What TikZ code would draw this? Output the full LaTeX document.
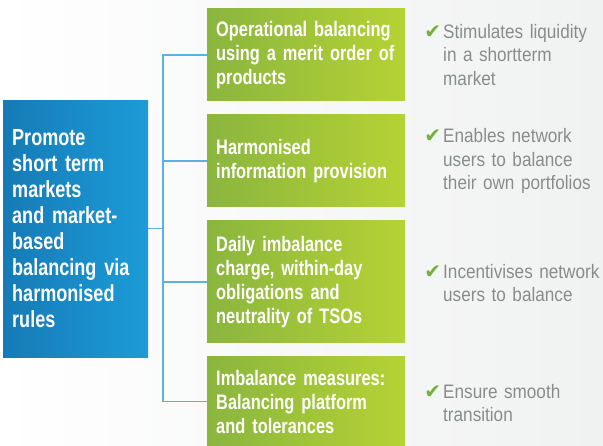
\documentclass[tikz,border=0pt]{standalone}
\usepackage{fontspec}
\setmainfont{Liberation Sans}[FakeStretch=0.78]
\newfontfamily\goalfont{Liberation Sans}[FakeStretch=0.775]
\newfontfamily\notefont{Liberation Sans}[FakeStretch=0.88]
\newfontfamily\tickfont{DejaVu Sans}
\usetikzlibrary{positioning}

\definecolor{blue1}{RGB}{22,122,182}
\definecolor{blue2}{RGB}{28,156,216}
\definecolor{green1}{RGB}{138,182,62}
\definecolor{green2}{RGB}{182,210,52}
\definecolor{line1}{RGB}{90,178,224}
\definecolor{gray1}{RGB}{138,140,140}
\definecolor{tick1}{RGB}{116,176,58}
\definecolor{bg1}{RGB}{240,241,241}

\tikzstyle{goalbox} = [anchor=north west, inner xsep=9pt, inner ysep=0pt, text width=127pt,
    minimum height=257pt, left color=blue1, right color=blue2, text=white, align=left,
    font=\goalfont\bfseries\fontsize{23.3}{26}\selectfont]
\tikzstyle{measure} = [anchor=west, inner xsep=9pt, inner ysep=0pt, text width=180pt,
    left color=green1, right color=green2, text=white, align=left,
    font=\bfseries\fontsize{21}{24}\selectfont]
\tikzstyle{note} = [anchor=west, inner sep=0pt, text width=175pt, text=gray1, align=left,
    font=\notefont\fontsize{19.5}{23.5}\selectfont]
\tikzstyle{link} = [draw=line1, line width=1.3pt]
\newcommand{\tickmark}{\llap{{\tickfont\fontsize{20}{20}\selectfont\color{tick1}✔}\hspace{2pt}}}

\begin{document}
\begin{tikzpicture}[x=1pt, y=-1pt]
    % background
    \useasboundingbox (0,0) rectangle (603,446);
    \fill[left color=white, right color=bg1] (0,0) rectangle (603,446);

    % goal
    \node[goalbox] (goal) at (3,100) {Promote\\short term\\markets\\and market-\\based\\balancing via\\harmonised\\rules};

    % measures
    \node[measure, minimum height=92pt] (merit) at (207,55) {Operational balancing\\using a merit order of\\products};
    \node[measure, minimum height=92pt] (info) at (207,161) {Harmonised\\information provision};
    \node[measure, minimum height=122pt] (daily) at (207,282) {Daily imbalance\\charge, within-day\\obligations and\\neutrality of TSOs};
    \node[measure, minimum height=89pt] (platform) at (207,401.5) {Imbalance measures:\\Balancing platform\\and tolerances};

    % links
    \coordinate (bus) at (163,229);
    \draw[link] (goal.east) -- (goal.east -| bus);
    \foreach \m in {merit,info,daily,platform}
        \draw[link] (goal.east -| bus) |- (\m.west);

    % benefits
    \node[note] (liquidity) at (443,55) {\tickmark Stimulates liquidity\\in a shortterm\\market};
    \node[note] (portfolios) at (443,161) {\tickmark Enables network\\users to balance\\their own portfolios};
    \node[note] (incentive) at (443,283) {\tickmark Incentivises network\\users to balance};
    \node[note] (transition) at (443,403) {\tickmark Ensure smooth\\transition};
\end{tikzpicture}
\end{document}
